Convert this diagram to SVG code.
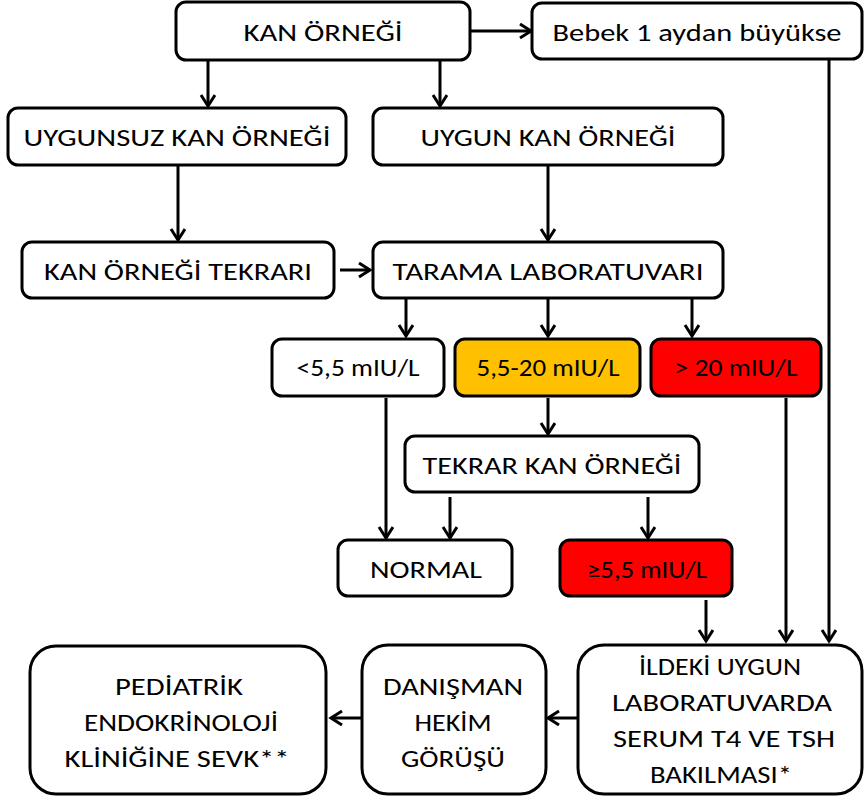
<svg xmlns="http://www.w3.org/2000/svg" width="866" height="799" viewBox="0 0 866 799">
<style>
.b{fill:#fff;stroke:#000;stroke-width:3}
.y{fill:#FFC000}
.r{fill:#FF0000}
text{font-family:"Carlito","Liberation Sans Narrow","Liberation Sans",sans-serif;font-size:24px;fill:#000;text-anchor:middle}
.c{fill:none;stroke:#000;stroke-width:3}
</style>
<defs>
<marker id="a" markerUnits="userSpaceOnUse" markerWidth="20" markerHeight="20" refX="13" refY="8" orient="auto">
<path d="M2,1 L13,8 L2,15" fill="none" stroke="#000" stroke-width="3" stroke-linejoin="miter"/>
</marker>
</defs>
<rect width="866" height="799" fill="#fff"/>
<g id="connectors">
<path class="c" marker-end="url(#a)" d="M471,31 H531"/>
<path class="c" marker-end="url(#a)" d="M208,61 V106"/>
<path class="c" marker-end="url(#a)" d="M440,61 V106"/>
<path class="c" marker-end="url(#a)" d="M178,166 V240"/>
<path class="c" marker-end="url(#a)" d="M548,166 V240"/>
<path class="c" marker-end="url(#a)" d="M340,270 H370"/>
<path class="c" marker-end="url(#a)" d="M406,299 V336"/>
<path class="c" marker-end="url(#a)" d="M548,299 V336"/>
<path class="c" marker-end="url(#a)" d="M692,299 V336"/>
<path class="c" marker-end="url(#a)" d="M548,398 V434"/>
<path class="c" marker-end="url(#a)" d="M386,398 V538"/>
<path class="c" marker-end="url(#a)" d="M450,497 V538"/>
<path class="c" marker-end="url(#a)" d="M648,497 V538"/>
<path class="c" marker-end="url(#a)" d="M829,60 V641"/>
<path class="c" marker-end="url(#a)" d="M786,398 V641"/>
<path class="c" marker-end="url(#a)" d="M706,600 V641"/>
<path class="c" marker-end="url(#a)" d="M578,718 H548"/>
<path class="c" marker-end="url(#a)" d="M361,718 H331"/>
</g>
<g id="kan-ornegi"><rect class="b" x="176" y="2" width="294" height="58" rx="10"/><text x="323" y="41" textLength="159" lengthAdjust="spacingAndGlyphs">KAN ÖRNEĞİ</text></g>
<g id="bebek"><rect class="b" x="532" y="3" width="330" height="56" rx="10"/><text x="697" y="41" textLength="289" lengthAdjust="spacingAndGlyphs">Bebek 1 aydan büyükse</text></g>
<g id="uygunsuz"><rect class="b" x="8" y="108" width="338" height="57" rx="10"/><text x="177" y="146" textLength="307" lengthAdjust="spacingAndGlyphs">UYGUNSUZ KAN ÖRNEĞİ</text></g>
<g id="uygun"><rect class="b" x="373" y="108" width="350" height="57" rx="10"/><text x="548" y="146" textLength="255" lengthAdjust="spacingAndGlyphs">UYGUN KAN ÖRNEĞİ</text></g>
<g id="tekrari"><rect class="b" x="22" y="242" width="312" height="56" rx="10"/><text x="178" y="280" textLength="268" lengthAdjust="spacingAndGlyphs">KAN ÖRNEĞİ TEKRARI</text></g>
<g id="tarama"><rect class="b" x="373" y="242" width="350" height="56" rx="10"/><text x="548" y="280" textLength="311" lengthAdjust="spacingAndGlyphs">TARAMA LABORATUVARI</text></g>
<g id="lt55"><rect class="b" x="272" y="339" width="172" height="57" rx="10"/><text x="358" y="376" textLength="123" lengthAdjust="spacingAndGlyphs">&lt;5,5 mIU/L</text></g>
<g id="mid"><rect class="b y" x="455" y="339" width="185" height="57" rx="10"/><text x="548" y="376" textLength="143" lengthAdjust="spacingAndGlyphs">5,5-20 mIU/L</text></g>
<g id="gt20"><rect class="b r" x="651" y="339" width="170" height="57" rx="10"/><text x="736" y="376" textLength="123" lengthAdjust="spacingAndGlyphs">&gt; 20 mIU/L</text></g>
<g id="tekrar"><rect class="b" x="405" y="436" width="294" height="56" rx="10"/><text x="552" y="474" textLength="259" lengthAdjust="spacingAndGlyphs">TEKRAR KAN ÖRNEĞİ</text></g>
<g id="normal"><rect class="b" x="338" y="540" width="174" height="56" rx="10"/><text x="426" y="578" textLength="112" lengthAdjust="spacingAndGlyphs">NORMAL</text></g>
<g id="ge55"><rect class="b r" x="560" y="540" width="172" height="56" rx="10"/><text x="647" y="578" textLength="120" lengthAdjust="spacingAndGlyphs">≥5,5 mIU/L</text></g>
<g id="ildeki"><rect class="b" x="578" y="645" width="284" height="149" rx="26"/>
<text x="720" y="675" textLength="162" lengthAdjust="spacingAndGlyphs">İLDEKİ UYGUN</text>
<text x="722" y="711" textLength="220" lengthAdjust="spacingAndGlyphs">LABORATUVARDA</text>
<text x="724" y="747" textLength="222" lengthAdjust="spacingAndGlyphs">SERUM T4 VE TSH</text>
<text x="721" y="783" textLength="142" lengthAdjust="spacingAndGlyphs">BAKILMASI*</text></g>
<g id="danisman"><rect class="b" x="362" y="645" width="184" height="149" rx="26"/>
<text x="453" y="695" textLength="140" lengthAdjust="spacingAndGlyphs">DANIŞMAN</text>
<text x="453" y="731" textLength="77" lengthAdjust="spacingAndGlyphs">HEKİM</text>
<text x="453" y="767" textLength="104" lengthAdjust="spacingAndGlyphs">GÖRÜŞÜ</text></g>
<g id="pediatrik"><rect class="b" x="30" y="646" width="296" height="148" rx="26"/>
<text x="179" y="695" textLength="128" lengthAdjust="spacingAndGlyphs">PEDİATRİK</text>
<text x="181" y="731" textLength="194" lengthAdjust="spacingAndGlyphs">ENDOKRİNOLOJİ</text>
<text x="177" y="767" textLength="225" lengthAdjust="spacingAndGlyphs">KLİNİĞİNE SEVK**</text></g>
</svg>
